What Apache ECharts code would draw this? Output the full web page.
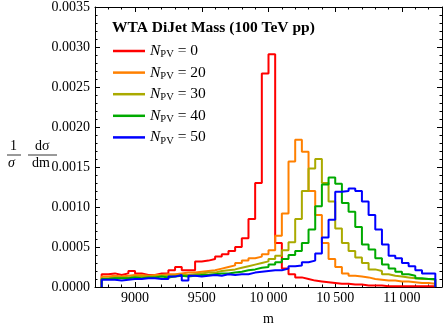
<!DOCTYPE html>
<html>
<head>
<meta charset="utf-8">
<script src="https://cdn.jsdelivr.net/npm/echarts@6/dist/echarts.min.js"></script>
<style>
  html, body { margin: 0; padding: 0; background: #fff; }
  #chart { width: 443px; height: 327px; }
</style>
</head>
<body>
<div id="chart"></div>
<script>
// bin left edges (width 50), last bin closes at binEnd
const binLeft = [
  8750, 8800, 8850, 8900, 8950, 9000, 9050, 9100, 9150, 9200,
  9250, 9300, 9350, 9400, 9450, 9500, 9550, 9600, 9650, 9700,
  9750, 9800, 9850, 9900, 9950, 10000, 10050, 10100, 10150, 10200,
  10250, 10300, 10350, 10400, 10450, 10500, 10550, 10600, 10650, 10700,
  10750, 10800, 10850, 10900, 10950, 11000, 11050, 11100, 11150, 11200,
];
const binEnd = 11250;

const pv0 = [
  0.00016, 0.00017, 0.00015, 0.00017, 0.00020, 0.00017, 0.00015, 0.00015, 0.00017, 0.00017,
  0.00021, 0.00025, 0.00021, 0.00021, 0.00032, 0.00033, 0.00035, 0.00038, 0.00041, 0.00045,
  0.00050, 0.00061, 0.00085, 0.00130, 0.00267, 0.00291, 0.00055, 0.00023, 0.00016, 0.00012,
  0.00010, 0.00008, 0.00007, 0.00006, 0.00005, 0.00004, 0.00004, 0.00003, 0.00003, 0.00002,
  0.00002, 0.00002, 0.00001, 0.00001, 0.00001, 0.00001, 0.00001, 0.00001, 0.00001, 0.00001,
];
const pv20 = [
  0.00013, 0.00014, 0.00013, 0.00014, 0.00015, 0.00015, 0.00014, 0.00015, 0.00015, 0.00016,
  0.00016, 0.00017, 0.00018, 0.00018, 0.00019, 0.00020, 0.00021, 0.00023, 0.00025, 0.00027,
  0.00030, 0.00033, 0.00036, 0.00038, 0.00041, 0.00046, 0.00064, 0.00092, 0.00157, 0.00184,
  0.00169, 0.00120, 0.00090, 0.00055, 0.00035, 0.00025, 0.00017, 0.00014, 0.00013, 0.00012,
  0.00010, 0.00009, 0.00008, 0.00008, 0.00007, 0.00007, 0.00006, 0.00005, 0.00005, 0.00004,
];
const pv30 = [
  0.00011, 0.00012, 0.00012, 0.00012, 0.00013, 0.00013, 0.00013, 0.00013, 0.00014, 0.00014,
  0.00014, 0.00015, 0.00015, 0.00016, 0.00017, 0.00018, 0.00018, 0.00020, 0.00021, 0.00022,
  0.00024, 0.00026, 0.00028, 0.00030, 0.00032, 0.00035, 0.00039, 0.00046, 0.00056, 0.00085,
  0.00120, 0.00148, 0.00160, 0.00130, 0.00107, 0.00073, 0.00055, 0.00045, 0.00037, 0.00030,
  0.00022, 0.00020, 0.00016, 0.00014, 0.00013, 0.00012, 0.00011, 0.00010, 0.00010, 0.00009,
];
const pv40 = [
  0.00010, 0.00011, 0.00011, 0.00011, 0.00012, 0.00011, 0.00012, 0.00012, 0.00013, 0.00012,
  0.00013, 0.00014, 0.00013, 0.00014, 0.00015, 0.00015, 0.00016, 0.00017, 0.00017, 0.00018,
  0.00019, 0.00021, 0.00022, 0.00024, 0.00025, 0.00028, 0.00031, 0.00035, 0.00040, 0.00045,
  0.00055, 0.00072, 0.00101, 0.00128, 0.00137, 0.00129, 0.00105, 0.00094, 0.00075, 0.00053,
  0.00047, 0.00036, 0.00028, 0.00023, 0.00019, 0.00016, 0.00014, 0.00011, 0.00010, 0.00010,
];
const pv50 = [
  0.00009, 0.00009, 0.00008, 0.00009, 0.00010, 0.00010, 0.00011, 0.00011, 0.00010, 0.00010,
  0.00013, 0.00015, 0.00008, 0.00014, 0.00013, 0.00014, 0.00015, 0.00014, 0.00016, 0.00015,
  0.00016, 0.00016, 0.00018, 0.00019, 0.00020, 0.00021, 0.00021, 0.00023, 0.00026, 0.00027,
  0.00031, 0.00033, 0.00042, 0.00062, 0.00084, 0.00119, 0.00120, 0.00123, 0.00120, 0.00107,
  0.00090, 0.00072, 0.00053, 0.00039, 0.00036, 0.00030, 0.00026, 0.00021, 0.00017, 0.00017,
];

const pileups = ["0", "20", "30", "40", "50"];
const hists = [pv0, pv20, pv30, pv40, pv50];
const xMajor = [9000, 9500, 10000, 10500, 11000];

const colors = ["#ff0000", "#ff8000", "#aaaa00", "#00aa00", "#0000ff"];
const serif = "Liberation Serif";

// outline of a histogram: up from 0 at the first edge, steps, back to 0
function outline(values) {
  const pts = [[binLeft[0], 0]];
  values.forEach((v, i) => pts.push([binLeft[i], v]));
  pts.push([binEnd, 0]);
  return pts;
}

function xAxis(position, major, labels) {
  return {
    type: "value",
    position,
    min: 8700,
    max: 11300,
    interval: 100,
    axisLine: { show: !major, lineStyle: { color: "#000", width: 1 } },
    axisTick: major
      ? { show: true, inside: true, length: 5, customValues: xMajor, lineStyle: { color: "#000" } }
      : { show: true, inside: true, length: 2.5, lineStyle: { color: "#000" } },
    axisLabel: labels
      ? {
          show: true,
          customValues: xMajor,
          fontFamily: serif,
          fontSize: 14,
          color: "#000",
          margin: 4,
          formatter: (v) => (v >= 10000 ? String(v).replace(/(\d{2})(\d{3})/, "$1\u2009$2") : String(v)),
        }
      : { show: false },
    splitLine: { show: false },
    name: labels ? "m" : "",
    nameLocation: "middle",
    nameGap: 25,
    nameTextStyle: { fontFamily: serif, fontSize: 14, color: "#000" },
  };
}

function yAxis(position, labels) {
  return {
    type: "value",
    position,
    min: 0,
    max: 0.0035,
    interval: 0.0005,
    axisLine: { show: true, lineStyle: { color: "#000", width: 1 } },
    axisTick: { show: true, inside: true, length: 5, lineStyle: { color: "#000" } },
    minorTick: { show: true, splitNumber: 5, length: 2.5, lineStyle: { color: "#000" } },
    axisLabel: labels
      ? { show: true, fontFamily: serif, fontSize: 14, color: "#000", margin: 5, formatter: (v) => v.toFixed(4) }
      : { show: false },
    splitLine: { show: false },
  };
}

const chart = echarts.init(document.getElementById("chart"), null, { renderer: "canvas" });

chart.setOption({
  animation: false,
  backgroundColor: "#fff",
  grid: { left: 95, right: 1, top: 7, bottom: 40, outerBoundsMode: "none", containLabel: false },
  xAxis: [xAxis("bottom", false, true), xAxis("bottom", true, false), xAxis("top", false, false), xAxis("top", true, false)],
  yAxis: [yAxis("left", true), yAxis("right", false)],
  title: {
    text: "WTA DiJet Mass (100 TeV pp)",
    left: 112,
    top: 20,
    padding: 0,
    textStyle: { fontFamily: serif, fontSize: 15.5, fontWeight: "bold", color: "#000" },
  },
  legend: {
    orient: "vertical",
    left: 113,
    top: 43,
    padding: 0,
    icon: "rect",
    itemWidth: 32,
    itemHeight: 2.5,
    itemGap: 4.6,
    formatter: (name) => `{n|N}{s|PV}{t| = ${name.split("=")[1].trim()}}`,
    textStyle: {
      rich: {
        n: { fontFamily: serif, fontStyle: "italic", fontSize: 15.5, color: "#000" },
        s: { fontFamily: serif, fontSize: 10.5, color: "#000", padding: [7, 0, 0, 0] },
        t: { fontFamily: serif, fontSize: 15.5, color: "#000" },
      },
    },
  },
  graphic: [
    { type: "text", left: 10, top: 139, style: { text: "1", font: `14px '${serif}'`, fill: "#000" } },
    { type: "line", shape: { x1: 7, y1: 155, x2: 21, y2: 155 }, style: { stroke: "#000", lineWidth: 0.8 } },
    { type: "text", left: 8, top: 156, style: { text: "\u03c3", font: `italic 14px '${serif}'`, fill: "#000" } },
    { type: "text", left: 35, top: 139, style: { text: "d\u03c3", font: `14px '${serif}'`, fill: "#000" } },
    { type: "line", shape: { x1: 28, y1: 155, x2: 57, y2: 155 }, style: { stroke: "#000", lineWidth: 0.8 } },
    { type: "text", left: 32, top: 156, style: { text: "dm", font: `14px '${serif}'`, fill: "#000" } },
  ],
  series: hists.map((values, i) => ({
    name: `N_PV = ${pileups[i]}`,
    type: "line",
    xAxisIndex: 0,
    yAxisIndex: 0,
    step: "end",
    symbol: "none",
    data: outline(values),
    lineStyle: { color: colors[i], width: 2 },
    itemStyle: { color: colors[i] },
  })),
});
</script>
</body>
</html>
